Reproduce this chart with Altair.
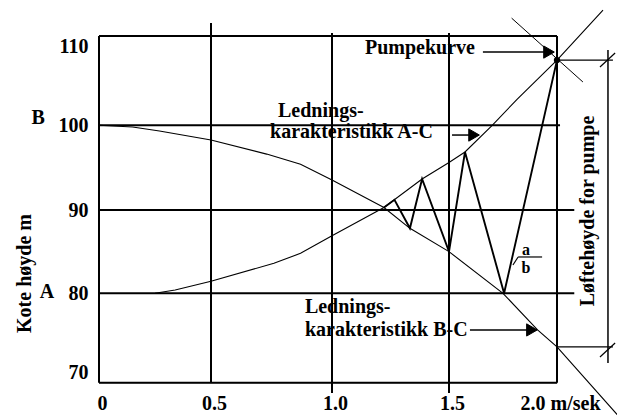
import altair as alt
import pandas as pd

FONT = "Liberation Serif"

# ---- axis ticks / labels ----
x_ticks = [0, 0.5, 1.0, 1.5, 2.0]
x_tick_labels = ["0", "0.5", "1.0", "1.5", "2.0 m/sek"]
y_ticks = [70, 80, 90, 100, 110]
y_tick_labels = ["70", "80", "90", "100", "110"]

# ---- Ledningskarakteristikk B-C (from B, falling) ----
bc_q = [0.0, 0.15, 0.27, 0.5, 0.73, 0.87, 1.0, 1.222, 1.333, 1.5, 1.75, 1.91, 2.0, 2.28]
bc_h = [100.0, 99.8, 99.33, 98.26, 96.6, 95.4, 93.54, 90.3, 87.8, 85.0, 80.0, 75.9, 74.0, 66.4]

# ---- Ledningskarakteristikk A-C (from A, rising) ----
ac_q = [0.25, 0.34, 0.5, 0.76, 0.87, 1.0, 1.222, 1.385, 1.5, 1.574, 1.70, 1.815, 2.0, 2.213]
ac_h = [80.0, 80.4, 81.45, 83.6, 84.8, 86.9, 90.3, 93.66, 95.6, 96.85, 100.0, 102.9, 107.3, 112.9]

# ---- oscillation (zig-zag) between the characteristics ----
zz_q = [1.222, 1.267, 1.333, 1.385, 1.5, 1.574, 1.755, 2.0]
zz_h = [90.3, 91.2, 87.8, 93.66, 85.0, 96.85, 80.0, 107.3]

# ---- pump curve segment ----
pump_q = [1.79, 2.12]
pump_h = [112.0, 104.85]

# ---- operating point ----
op_q = [2.0]
op_h = [107.3]
lift_low_h = 74.0

# ---- grid lines (hand-drawn extents) ----
hgrid_y = [110, 100, 90, 80, 70]
hgrid_x_end = [2.0, 2.014, 2.08, 2.08, 2.0]
vgrid_x = [0, 0.5, 1.0, 1.5, 2.0]
vgrid_lo = [70, 70, 68.85, 68.85, 70]
vgrid_hi = [110, 111.46, 110.34, 110.34, 110]

# ---- annotation texts ----
txt_center = ["Pumpekurve", "B", "A", "a", "b"]
txt_center_q = [1.376, -0.272, -0.232, 1.856, 1.856]
txt_center_h = [108.66, 100.82, 80.16, 85.2, 83.04]
txt_center_size = [20, 20, 20, 16, 16]
txt_left = ["Lednings-", "karakteristikk A-C", "Lednings-", "karakteristikk B-C"]
txt_left_q = [0.777, 0.744, 0.888, 0.888]
txt_left_h = [101.6, 99.21, 78.47, 75.88]
txt_rot = ["Løftehøyde for pumpe"]
txt_rot_q = [2.144]
txt_rot_h = [89.88]

# arrows: start q, head q, level h
arrow_q0 = [1.657, 1.514, 1.597]
arrow_q1 = [1.963, 1.616, 1.884]
arrow_h = [108.2, 98.85, 75.9]

# ---- scales: the grid of the original is slightly irregular ----
xs = alt.Scale(domain=x_ticks, range=[0, 112, 233, 350, 458], nice=False, zero=False)
ys = alt.Scale(domain=y_ticks, range=[346.7, 257.3, 174, 89.3, 0], nice=False, zero=False)


def label_expr(vals, labels):
    expr = "''"
    for v, l in reversed(list(zip(vals, labels))):
        expr = f"datum.value == {v} ? '{l}' : ({expr})"
    return expr


x_axis = alt.Axis(values=x_ticks, labelExpr=label_expr(x_ticks, x_tick_labels), ticks=False,
                  domain=False, grid=False, labelFont=FONT, labelFontWeight="bold",
                  labelFontSize=20, labelColor="black", labelPadding=20, labelBaseline="middle",
                  labelOffset=3, labelAngle=0, labelOverlap=False, labelFlush=False, title=None)
y_axis = alt.Axis(values=y_ticks, labelExpr=label_expr(y_ticks, y_tick_labels), ticks=False,
                  domain=False, grid=False, labelFont=FONT, labelFontWeight="bold",
                  labelFontSize=20, labelColor="black", labelPadding=11, labelFlush=True,
                  labelOverlap=False, title="Kote høyde m", titleFont=FONT, titleFontWeight="bold",
                  titleFontSize=20, titleColor="black", titleX=-75, titleY=237,
                  titleAlign="center", titleBaseline="middle")


def X(field):
    return alt.X(field, type="quantitative", scale=xs, axis=x_axis)


def Y(field):
    return alt.Y(field, type="quantitative", scale=ys, axis=y_axis)


# rules table
rows = []
for y, xe in zip(hgrid_y, hgrid_x_end):
    rows.append(dict(x=0, x2=xe, y=y, y2=y, w=2))
for x, lo, hi in zip(vgrid_x, vgrid_lo, vgrid_hi):
    rows.append(dict(x=x, x2=x, y=lo, y2=hi, w=2))
# dimension for Løftehøyde
rows.append(dict(x=op_q[0], x2=2.259, y=op_h[0], y2=op_h[0], w=1.2))
rows.append(dict(x=2.0, x2=2.259, y=lift_low_h, y2=lift_low_h, w=1.2))
rows.append(dict(x=2.236, x2=2.236, y=72.2, y2=108.43, w=1.5))
rows.append(dict(x=2.199, x2=2.269, y=106.53, y2=108.1, w=1.2))
rows.append(dict(x=2.199, x2=2.269, y=72.87, y2=74.44, w=1.2))
# fraction a/b
rows.append(dict(x=1.82, x2=1.931, y=84.36, y2=84.36, w=1.2))
rows.append(dict(x=1.796, x2=1.82, y=83.4, y2=84.36, w=1.2))
# arrow shafts
for q0, q1, h in zip(arrow_q0, arrow_q1, arrow_h):
    rows.append(dict(x=q0, x2=q1, y=h, y2=h, w=1.5))
rules_df = pd.DataFrame(rows)

rules = alt.Chart(rules_df).mark_rule(color="black", strokeCap="butt").encode(
    x=X("x"), x2="x2:Q", y=Y("y"), y2="y2:Q",
    strokeWidth=alt.StrokeWidth("w:Q", scale=None),
)


def line_layer(q, h, width):
    df = pd.DataFrame({"x": q, "y": h, "i": list(range(len(q)))})
    return alt.Chart(df).mark_line(color="black", strokeWidth=width, strokeJoin="miter").encode(
        x=X("x"), y=Y("y"), order=alt.Order("i:Q"),
    )


bc = line_layer(bc_q, bc_h, 1.1)
ac = line_layer(ac_q, ac_h, 1.1)
zz = line_layer(zz_q, zz_h, 1.9)
pump = line_layer(pump_q, pump_h, 1.0)

heads = alt.Chart(pd.DataFrame({"x": arrow_q1, "y": arrow_h, "s": [150, 150, 150]})).mark_point(
    shape="triangle-right", filled=True, fill="black", stroke="black", fillOpacity=1,
    opacity=1, strokeWidth=1
).encode(x=X("x"), y=Y("y"), size=alt.Size("s:Q", scale=None))

dot = alt.Chart(pd.DataFrame({"x": op_q, "y": op_h})).mark_circle(
    size=40, color="black", opacity=1
).encode(x=X("x"), y=Y("y"))

t_center = alt.Chart(pd.DataFrame({"t": txt_center, "x": txt_center_q, "y": txt_center_h,
                                   "s": txt_center_size})).mark_text(
    font=FONT, fontWeight="bold", color="black", align="center", baseline="middle"
).encode(x=X("x"), y=Y("y"), text="t:N", size=alt.Size("s:Q", scale=None))

t_left = alt.Chart(pd.DataFrame({"t": txt_left, "x": txt_left_q, "y": txt_left_h})).mark_text(
    font=FONT, fontWeight="bold", fontSize=20, color="black", align="left", baseline="middle"
).encode(x=X("x"), y=Y("y"), text="t:N")

t_rot = alt.Chart(pd.DataFrame({"t": txt_rot, "x": txt_rot_q, "y": txt_rot_h})).mark_text(
    font=FONT, fontWeight="bold", fontSize=20, color="black", align="center", baseline="middle",
    angle=270
).encode(x=X("x"), y=Y("y"), text="t:N")

chart = alt.layer(rules, bc, ac, zz, pump, heads, dot, t_center, t_left, t_rot).properties(
    width=458, height=347,
    autosize=alt.AutoSizeParams(type="none"),
    padding={"left": 91, "top": 28, "right": 60, "bottom": 33},
).configure_view(strokeWidth=0).configure(background="white")

chart.save("out.html", embed_options={"renderer": "svg", "actions": False})
